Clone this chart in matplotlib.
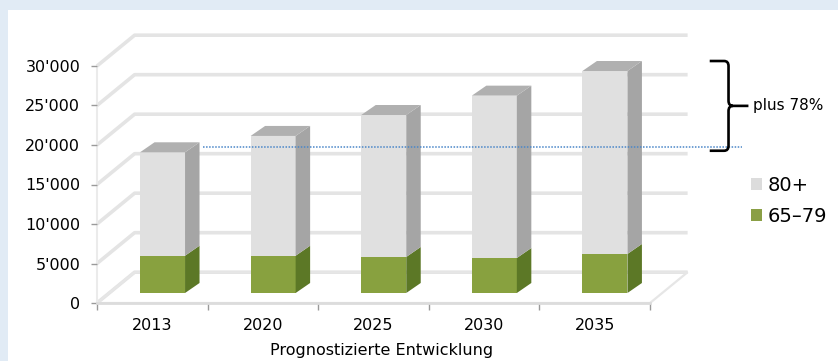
import numpy as np
import matplotlib.pyplot as plt
from matplotlib.patches import Polygon, Patch, Rectangle
from matplotlib.path import Path
from matplotlib.patches import PathPatch
from matplotlib.ticker import FuncFormatter

# Daten
jahre = ["2013", "2020", "2025", "2030", "2035"]
alter_65_79 = [4720, 4720, 4560, 4430, 4940]
gesamt = [17810, 19880, 22530, 24980, 28100]
alter_80 = [g - a for g, a in zip(gesamt, alter_65_79)]
yticks = [0, 5000, 10000, 15000, 20000, 25000, 30000]

W, H = 838, 361
fig = plt.figure(figsize=(W / 100, H / 100), dpi=100, facecolor="#e1ebf5")
fig.patches.append(Rectangle((8 / W, 0), 1, (H - 10) / H, transform=fig.transFigure,
                             facecolor="white", edgecolor="none", zorder=-10))

ax = fig.add_axes([97 / W, (H - 303) / H, 553 / W, 237 / H])
ax.set_xlim(0, 5)
ax.set_ylim(0, 30000)
ax.patch.set_visible(False)

# Raum-Tiefe (Wand) und Balkentiefe
DX, DY = 0.34, 3900
bar_off, bar_w = 0.389, 0.407
bdx, bdy = 0.131, 1266
zb = 1266

grid_c = "#e4e4e4"
# Rueckwand + linke Wand
for v in yticks:
    ax.plot([0, DX, 5 + DX], [v, v + DY, v + DY], color=grid_c, lw=2.6,
            clip_on=False, zorder=1, solid_capstyle="butt")
# Boden
floor = Polygon([(0, 0), (5, 0), (5 + DX, DY), (DX, DY)], closed=True,
                facecolor="none", edgecolor="#e6e6e6", lw=1.6, clip_on=False, zorder=1)
ax.add_patch(floor)
ax.plot([0, 0], [0, 30000], color="#ebebeb", lw=1.5, clip_on=False, zorder=1)

c80_front, c80_side, c80_top = "#e0e0e0", "#a5a5a5", "#b0b0b0"
cg_front, cg_side = "#88a13f", "#5c7826"

def box(x0, y0, y1, front, side, top=None):
    x1 = x0 + bar_w
    ax.add_patch(Polygon([(x0, y0), (x1, y0), (x1, y1), (x0, y1)],
                         facecolor=front, edgecolor="none", zorder=3, clip_on=False))
    ax.add_patch(Polygon([(x1, y0), (x1 + bdx, y0 + bdy), (x1 + bdx, y1 + bdy), (x1, y1)],
                         facecolor=side, edgecolor="none", zorder=3, clip_on=False))
    if top is not None:
        ax.add_patch(Polygon([(x0, y1), (x1, y1), (x1 + bdx, y1 + bdy), (x0 + bdx, y1 + bdy)],
                             facecolor=top, edgecolor="none", zorder=3, clip_on=False))

for i in range(len(jahre)):
    x0 = i + bar_off
    box(x0, zb, zb + alter_65_79[i], cg_front, cg_side)
    box(x0, zb + alter_65_79[i], zb + gesamt[i], c80_front, c80_side, c80_top)

# Linie auf Hoehe 2013
y_ref = zb + gesamt[0] + bdy * 0.55
ax.plot([bar_off + bar_w + bdx + 0.03, 5.83], [y_ref, y_ref], color="#4a86c8",
        lw=1.1, ls=(0, (1, 1)), clip_on=False, zorder=4)

# Klammer
y_top = zb + gesamt[-1] + bdy
y_bot = y_ref - 500
y_mid = (y_top + y_bot) / 2
xl, xv, xt = 5.54, 5.71, 5.89
rx, ry = 0.04, 650
verts = [(xl, y_top), (xv - rx, y_top), (xv, y_top), (xv, y_top - ry),
         (xv, y_mid + ry), (xv, y_mid), (xv + rx, y_mid), (xt, y_mid),
         (xv + rx, y_mid), (xv, y_mid), (xv, y_mid - ry),
         (xv, y_bot + ry), (xv, y_bot), (xv - rx, y_bot), (xl, y_bot)]
codes = [Path.MOVETO, Path.LINETO, Path.CURVE3, Path.CURVE3,
         Path.LINETO, Path.CURVE3, Path.CURVE3, Path.LINETO,
         Path.MOVETO, Path.CURVE3, Path.CURVE3,
         Path.LINETO, Path.CURVE3, Path.CURVE3, Path.LINETO]
ax.add_patch(PathPatch(Path(verts, codes), facecolor="none", edgecolor="black",
                       lw=1.9, clip_on=False, zorder=5))
ax.text(5.93, y_mid, "plus 78%", fontsize=11, va="center", ha="left", clip_on=False)

# Achsen
for s in ["top", "right", "left"]:
    ax.spines[s].set_visible(False)
ax.spines["bottom"].set_color("#dcdcdc")
ax.spines["bottom"].set_linewidth(2)
ax.spines["bottom"].set_zorder(2)
ax.set_yticks(yticks)
ax.yaxis.set_major_formatter(FuncFormatter(lambda v, p: f"{int(v):,}".replace(",", "'")))
ax.tick_params(axis="y", length=4, width=1, color="#9a9a9a", pad=8, labelsize=11.5)
ax.set_xticks([i + 0.5 for i in range(len(jahre))])
ax.set_xticklabels(jahre)
ax.set_xticks(range(6), minor=True)
ax.tick_params(axis="x", which="major", length=0, pad=11, labelsize=11.5)
ax.tick_params(axis="x", which="minor", length=5, width=1, color="#9a9a9a")
ax.set_xlabel("Prognostizierte Entwicklung", fontsize=11.5, labelpad=4)
ax.xaxis.set_label_coords((382 - 97) / 553, -0.17)

handles = [Patch(facecolor="#dcdcdc", edgecolor="none", label="80+"),
           Patch(facecolor="#8a9f45", edgecolor="none", label="65–79")]
fig.legend(handles=handles, loc="upper left", bbox_to_anchor=(751 / W, 1 - 176 / H),
           frameon=False, fontsize=14, handlelength=0.55, handleheight=0.55,
           handletextpad=0.3, labelspacing=0.6, borderaxespad=0, borderpad=0)

fig.savefig("out.png", dpi=100, facecolor=fig.get_facecolor())
